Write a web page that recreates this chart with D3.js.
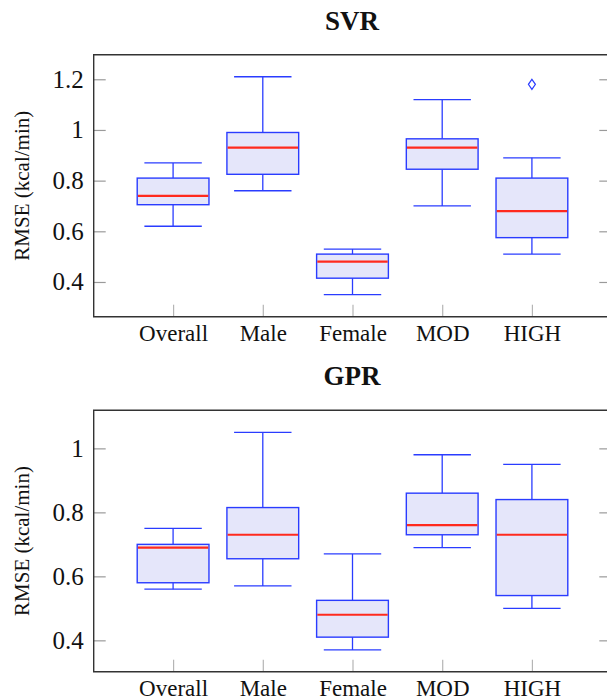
<!DOCTYPE html>
<html>
<head>
<meta charset="utf-8">
<script src="https://d3js.org/d3.v7.min.js"></script>
<style>
  body { margin: 0; background: #fff; }
  text { font-family: "Liberation Serif", "Times New Roman", serif; fill: #111; }
</style>
</head>
<body>
<div id="my_dataviz"></div>
<script>

// categories (x positions 1..5)
var categories = ["Overall", "Male", "Female", "MOD", "HIGH"];

// SVR box statistics
var svrLower  = [0.62, 0.76, 0.35, 0.70, 0.51];
var svrQ1     = [0.705, 0.825, 0.415, 0.845, 0.575];
var svrMedian = [0.74, 0.93, 0.48, 0.93, 0.68];
var svrQ3     = [0.81, 0.99, 0.51, 0.965, 0.81];
var svrUpper  = [0.87, 1.21, 0.53, 1.12, 0.89];
var svrOutlierCat = ["HIGH"];
var svrOutlierVal = [1.18];

// GPR box statistics
var gprLower  = [0.56, 0.57, 0.37, 0.69, 0.50];
var gprQ1     = [0.58, 0.655, 0.41, 0.73, 0.54];
var gprMedian = [0.69, 0.73, 0.48, 0.76, 0.73];
var gprQ3     = [0.70, 0.815, 0.525, 0.86, 0.84];
var gprUpper  = [0.75, 1.05, 0.67, 0.98, 0.95];
var gprOutlierCat = [];
var gprOutlierVal = [];

// tick values
var svrTicks = [0.4, 0.6, 0.8, 1, 1.2];
var gprTicks = [0.4, 0.6, 0.8, 1];

var W = 607, H = 699;
var left = 93.7, right = 611.3;

var svg = d3.select("#my_dataviz")
  .append("svg")
    .attr("width", W)
    .attr("height", H);

var x = d3.scaleLinear()
  .domain([0.115, 5.885])
  .range([left, right]);

function makeRows(lo, q1, med, q3, hi) {
  return categories.map(function(c, i) {
    return {name: c, pos: i + 1, lo: lo[i], q1: q1[i], med: med[i], q3: q3[i], hi: hi[i]};
  });
}

function drawPanel(opts) {
  var y = d3.scaleLinear().domain(opts.domain).range([opts.bottom, opts.top]);
  var g = svg.append("g");
  var boxW = x(1.4) - x(1);   // half width of box
  var capW = x(1.32) - x(1);  // half width of whisker cap

  // title
  g.append("text")
    .attr("x", (left + 611.3) / 2 - 0.5)
    .attr("y", opts.titleY)
    .attr("text-anchor", "middle")
    .style("font-weight", "bold")
    .style("font-size", "27px")
    .text(opts.title);

  // y label
  g.append("text")
    .attr("transform", "translate(29," + ((opts.top + opts.bottom) / 2) + ") rotate(-90)")
    .attr("text-anchor", "middle")
    .style("font-size", "21px")
    .text("RMSE (kcal/min)");

  // left axis (ticks inward)
  var ax = g.append("g")
    .attr("transform", "translate(" + left + ",0)")
    .call(d3.axisLeft(y).tickValues(opts.ticks).tickSize(-12).tickPadding(10)
      .tickFormat(d3.format("~g")));
  ax.select(".domain").remove();
  ax.selectAll("line").attr("stroke", "#9a9a9a").attr("stroke-width", 1.2);
  ax.selectAll("text").style("font-size", "25px").style("font-family", "Liberation Serif").attr("fill", "#111");

  // right axis, ticks only
  var ar = g.append("g")
    .attr("transform", "translate(" + right + ",0)")
    .call(d3.axisRight(y).tickValues(opts.ticks).tickSize(-12).tickFormat(""));
  ar.select(".domain").remove();
  ar.selectAll("line").attr("stroke", "#9a9a9a").attr("stroke-width", 1.2);

  // bottom axis
  var ab = g.append("g")
    .attr("transform", "translate(0," + opts.bottom + ")")
    .call(d3.axisBottom(x).tickValues([1, 2, 3, 4, 5]).tickSize(-12)
      .tickFormat(function(d) { return categories[d - 1]; }));
  ab.select(".domain").remove();
  ab.selectAll("line").attr("stroke", "#b5b5b5").attr("stroke-width", 1.2);
  ab.selectAll("text")
    .attr("y", 24.5).attr("dy", "0")
    .style("font-size", "23px").style("font-family", "Liberation Serif").attr("fill", "#111");

  var rows = makeRows(opts.lo, opts.q1, opts.med, opts.q3, opts.hi);
  var boxes = g.selectAll("myBoxes")
    .data(rows)
    .enter()
    .append("g");

  var blue = "#2a3cff";
  // whiskers
  boxes.append("line")
    .attr("x1", function(d) { return x(d.pos); })
    .attr("x2", function(d) { return x(d.pos); })
    .attr("y1", function(d) { return y(d.lo); })
    .attr("y2", function(d) { return y(d.q1); })
    .attr("stroke", blue).attr("stroke-width", 1.3);
  boxes.append("line")
    .attr("x1", function(d) { return x(d.pos); })
    .attr("x2", function(d) { return x(d.pos); })
    .attr("y1", function(d) { return y(d.q3); })
    .attr("y2", function(d) { return y(d.hi); })
    .attr("stroke", blue).attr("stroke-width", 1.3);
  // caps
  ["lo", "hi"].forEach(function(k) {
    boxes.append("line")
      .attr("x1", function(d) { return x(d.pos) - capW; })
      .attr("x2", function(d) { return x(d.pos) + capW; })
      .attr("y1", function(d) { return y(d[k]); })
      .attr("y2", function(d) { return y(d[k]); })
      .attr("stroke", blue).attr("stroke-width", 1.3);
  });
  // box
  boxes.append("rect")
    .attr("x", function(d) { return x(d.pos) - boxW; })
    .attr("width", 2 * boxW)
    .attr("y", function(d) { return y(d.q3); })
    .attr("height", function(d) { return y(d.q1) - y(d.q3); })
    .attr("fill", "#e5e6fa")
    .attr("stroke", blue).attr("stroke-width", 1.4);
  // median
  boxes.append("line")
    .attr("x1", function(d) { return x(d.pos) - boxW + 0.7; })
    .attr("x2", function(d) { return x(d.pos) + boxW - 0.7; })
    .attr("y1", function(d) { return y(d.med); })
    .attr("y2", function(d) { return y(d.med); })
    .attr("stroke", "#ff2a1e").attr("stroke-width", 2.2);

  // outliers (diamonds)
  g.selectAll("myOutliers")
    .data(opts.outCat.map(function(c, i) { return {pos: categories.indexOf(c) + 1, v: opts.outVal[i]}; }))
    .enter()
    .append("path")
      .attr("d", function(d) {
        var cx = x(d.pos), cy = y(d.v);
        return "M" + cx + "," + (cy - 5) + "L" + (cx + 3.5) + "," + cy + "L" + cx + "," + (cy + 5) + "L" + (cx - 3.5) + "," + cy + "Z";
      })
      .attr("fill", "none").attr("stroke", blue).attr("stroke-width", 1.2);

  // frame
  g.append("path")
    .attr("d", "M" + (right + 5) + "," + opts.top + "H" + left + "V" + opts.bottom + "H" + (right + 5))
    .attr("fill", "none").attr("stroke", "#333").attr("stroke-width", 1.4);
}

drawPanel({
  title: "SVR", titleY: 29.5, top: 54.7, bottom: 316.7, domain: [0.263, 1.297], ticks: svrTicks,
  lo: svrLower, q1: svrQ1, med: svrMedian, q3: svrQ3, hi: svrUpper,
  outCat: svrOutlierCat, outVal: svrOutlierVal
});

drawPanel({
  title: "GPR", titleY: 384.5, top: 410.3, bottom: 671.7, domain: [0.302, 1.119], ticks: gprTicks,
  lo: gprLower, q1: gprQ1, med: gprMedian, q3: gprQ3, hi: gprUpper,
  outCat: gprOutlierCat, outVal: gprOutlierVal
});

</script>
</body>
</html>
